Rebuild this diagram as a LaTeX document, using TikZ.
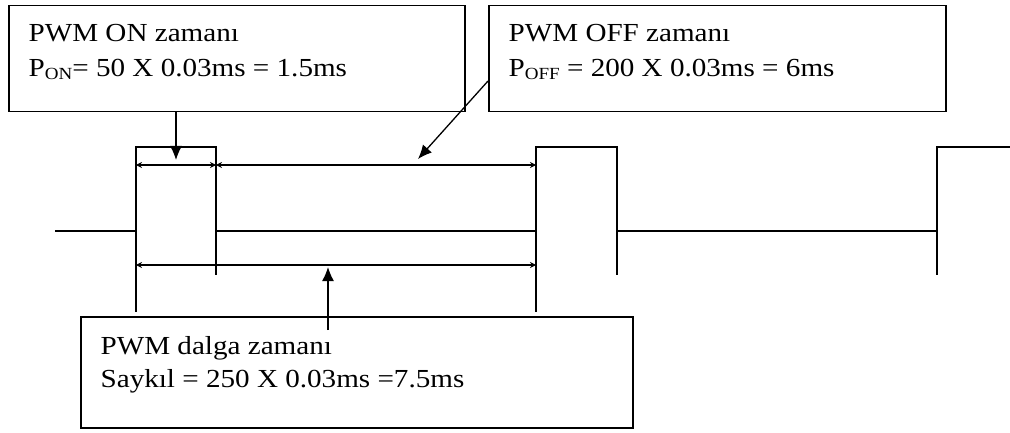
\documentclass[tikz,border=0pt]{standalone}
\usepackage{fontspec}
\setmainfont{Liberation Serif}[FakeStretch=1.12]
\usetikzlibrary{arrows.meta,calc}

\newcommand{\sub}[1]{\raisebox{-3pt}{\fontsize{17}{17}\selectfont #1}}

\begin{document}
\begin{tikzpicture}[x=1pt,y=-1pt,line width=1.3pt,
  infobox/.style={draw,line width=1.5pt,anchor=north west,inner sep=0pt},
  boxtext/.style={anchor=base west,inner sep=0pt,font=\fontsize{26}{26}\selectfont},
  bigarrow/.style={-{Latex[length=14pt,width=12pt]}},
  dimline/.style={{Stealth[length=6pt,width=6pt]}-{Stealth[length=6pt,width=6pt]}}]
  \useasboundingbox (0,0) rectangle (1010,433);

  % Coordinates
  \coordinate (start) at (55,231);
  \coordinate (up1) at (136,231);
  \coordinate (down1) at (216,231);
  \coordinate (up2) at (536,231);
  \coordinate (down2) at (617,231);
  \coordinate (up3) at (937,231);
  \coordinate (stop) at (1010,147);

  % Pulse train
  \draw (start)--(up1)--(up1 |- stop)--(down1 |- stop)--(down1)
        --(up2)--(up2 |- stop)--(down2 |- stop)--(down2)
        --(up3)--(up3 |- stop)--(stop);

  % Extension lines
  \draw (up1)--++(0,81);
  \draw (up2)--++(0,81);
  \draw (down1)--++(0,44);
  \draw (down2)--++(0,44);
  \draw (up3)--++(0,44);

  % Dimension lines
  \draw[dimline] ($(up1)+(0,-66)$) coordinate (ona) -- ($(down1)+(0,-66)$) coordinate (onb);
  \draw[dimline] ($(down1)+(0,-66)$) coordinate (offa) -- ($(up2)+(0,-66)$) coordinate (offb);
  \draw[dimline] ($(up1)+(0,34)$) coordinate (pera) -- ($(up2)+(0,34)$) coordinate (perb);

  % Boxes
  \node[infobox,minimum width=456pt,minimum height=106pt] (onbox) at (8,5) {};
  \node[infobox,minimum width=457pt,minimum height=106pt] (offbox) at (488,5) {};
  \node[infobox,minimum width=552pt,minimum height=111pt] (perbox) at (80,316) {};

  % Labels
  \node[boxtext] (ontitle) at (28,42) {PWM ON zamanı};
  \node[boxtext] (onval) at (28,77) {P\sub{ON}= 50 X 0.03ms = 1.5ms};
  \node[boxtext] (offtitle) at (508,42) {PWM OFF zamanı};
  \node[boxtext] (offval) at (508,77) {P\sub{OFF} = 200 X 0.03ms = 6ms};
  \node[boxtext] (pertitle) at (100,354) {PWM dalga zamanı};
  \node[boxtext] (perval) at (100,387) {Saykıl = 250 X 0.03ms =7.5ms};

  % Pointers
  \coordinate (ontip) at (176,160);
  \coordinate (offtip) at (418,159);
  \coordinate (pertip) at (328,267);
  \draw[bigarrow] (onbox.south -| ontip)--(ontip);
  \draw[bigarrow] ($(offbox.north west)+(0,76)$)--(offtip);
  \draw[bigarrow] (328,330)--(pertip);
\end{tikzpicture}
\end{document}
